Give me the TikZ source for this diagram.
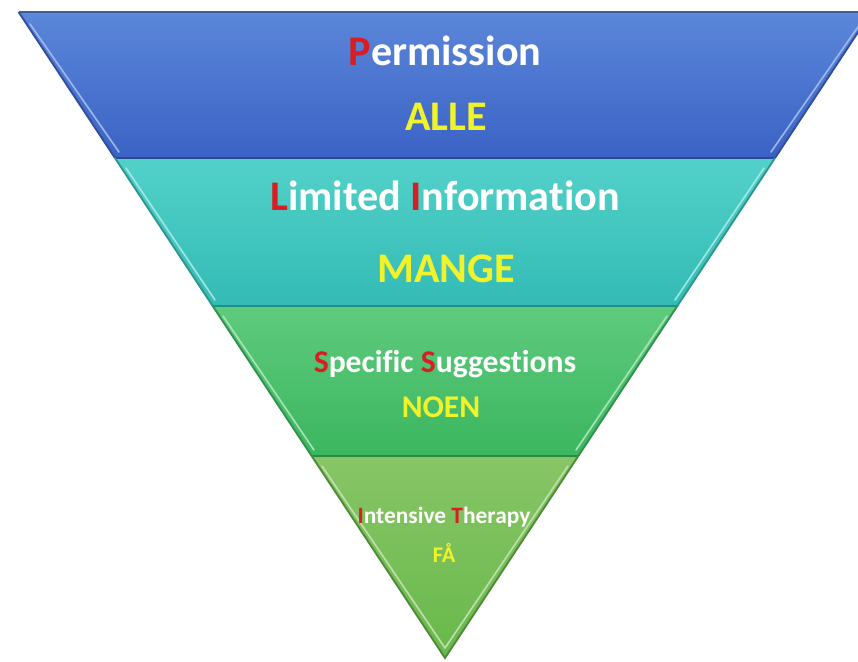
\documentclass[tikz,border=0pt]{standalone}
\usepackage{xcolor}
\usepackage{fontspec}
\setmainfont{Carlito}[Ligatures={NoCommon,NoContextual}]
\usepackage{tikz}
\usetikzlibrary{positioning}

\definecolor{initred}{HTML}{D81E22}
\definecolor{countyellow}{HTML}{F0F22A}
\definecolor{blueTop}{HTML}{5B87D9}
\definecolor{blueBot}{HTML}{3A62C5}
\definecolor{tealTop}{HTML}{52D1C9}
\definecolor{tealBot}{HTML}{33BBB5}
\definecolor{greenTop}{HTML}{5ECB7D}
\definecolor{greenBot}{HTML}{3BB65F}
\definecolor{limeTop}{HTML}{88C566}
\definecolor{limeBot}{HTML}{68B94B}
\newcommand{\redletter}[1]{\textcolor{initred}{#1}}

\begin{document}
\begin{tikzpicture}[x=0.03cm, y=-0.03cm]
    % Define styles
    \tikzstyle{level} = [font=\bfseries, text=white, anchor=base, inner sep=0pt]
    \tikzstyle{count} = [font=\bfseries, text=countyellow, anchor=base, inner sep=0pt]
    \tikzstyle{bevel} = [line width=1.4pt, line cap=round]
    \tikzstyle{rim} = [line width=1.6pt]

    \clip (0,0) rectangle (858,661);
    \fill[white] (0,0) rectangle (858,661);

    % Layers (top to bottom)
    \shade[top color=blueTop, bottom color=blueBot] (18.6,12) -- (871.4,12) -- (775,158) -- (115,158) -- cycle;
    \shade[top color=tealTop, bottom color=tealBot] (115,158) -- (775,158) -- (677.3,306) -- (212.7,306) -- cycle;
    \shade[top color=greenTop, bottom color=greenBot] (212.7,306) -- (677.3,306) -- (578.3,456) -- (311.7,456) -- cycle;
    \shade[top color=limeTop, bottom color=limeBot] (311.7,456) -- (578.3,456) -- (445,658) -- cycle;

    % Edges and bevels
    \draw[rim, blueTop!70!black] (18.6,12) -- (871.4,12);
    \draw[rim, blueBot!75!black] (115,158) -- (775,158);
    \draw[rim, tealBot!75!black] (212.7,306) -- (677.3,306);
    \draw[rim, greenBot!75!black] (311.7,456) -- (578.3,456);
    \draw[rim, limeBot!75!black] (311.7,456) -- (445,658) -- (578.3,456);
    \draw[rim, blueBot!80!black] (18.6,12) -- (115,158) (871.4,12) -- (775,158);
    \draw[rim, tealBot!80!black] (115,158) -- (212.7,306) (775,158) -- (677.3,306);
    \draw[rim, greenBot!80!black] (212.7,306) -- (311.7,456) (677.3,306) -- (578.3,456);
    \draw[bevel, blueTop!60!white] (30,24) -- (119,152) (860,24) -- (771,152);
    \draw[bevel, tealTop!55!white] (126,168) -- (215,300) (764,168) -- (675,300);
    \draw[bevel, greenTop!55!white] (223,316) -- (314,450) (667,316) -- (576,450);
    \draw[bevel, limeTop!55!white] (322,466) -- (445,648) -- (568,466);

    % Labels
    \node[level, font=\fontsize{36}{40}\selectfont\bfseries] (permission) at (445,65) {\redletter{P}ermission};
    \node[count, font=\fontsize{36}{40}\selectfont\bfseries] (alle) at (446,130) {ALLE};
    \node[level, font=\fontsize{36}{40}\selectfont\bfseries] (limited_info) at (445,210) {\redletter{L}imited \redletter{I}nformation};
    \node[count, font=\fontsize{36}{40}\selectfont\bfseries] (mange) at (446,282) {MANGE};
    \node[level, font=\fontsize{27}{30}\selectfont\bfseries] (specific_sugg) at (445,372) {\redletter{S}pecific \redletter{S}uggestions};
    \node[count, font=\fontsize{27}{30}\selectfont\bfseries] (noen) at (441,417) {NOEN};
    \node[level, font=\fontsize{20}{24}\selectfont\bfseries] (intensive_ther) at (444,523) {\redletter{I}ntensive \redletter{T}herapy};
    \node[count, font=\fontsize{19}{22}\selectfont\bfseries] (fa) at (444,562) {FÅ};
\end{tikzpicture}
\end{document}
